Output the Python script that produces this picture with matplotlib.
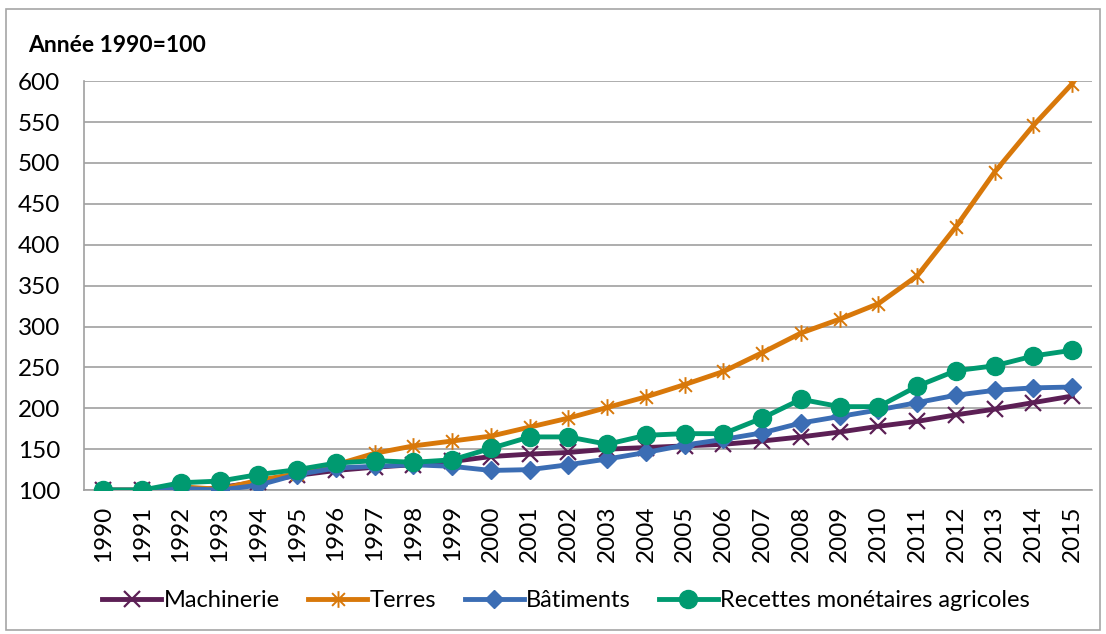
import matplotlib.pyplot as plt
import numpy as np
from matplotlib.path import Path
from matplotlib.patches import Rectangle

plt.rcParams['font.family'] = ['Lato', 'DejaVu Sans']

years = [str(y) for y in range(1990, 2016)]
machinerie = [100, 100, 98, 103, 110, 118, 124, 128, 131, 135, 141, 144, 146, 150, 152, 154, 156, 160, 165, 171, 178, 184, 192, 199, 207, 215]
terres = [100, 100, 104, 101, 112, 120, 131, 145, 154, 160, 166, 177, 188, 201, 214, 229, 245, 268, 292, 309, 328, 362, 422, 489, 546, 597]
batiments = [100, 100, 102, 100, 106, 119, 127, 129, 131, 129, 124, 125, 131, 138, 146, 155, 162, 170, 182, 190, 198, 207, 216, 222, 225, 226]
recettes = [100, 100, 109, 111, 119, 125, 133, 136, 134, 137, 151, 165, 165, 156, 167, 169, 169, 188, 211, 202, 202, 227, 246, 252, 264, 271]

labels = ["Machinerie", "Terres", "Bâtiments", "Recettes monétaires agricoles"]
colors = ["#5c1f55", "#d8780a", "#3b6db4", "#009a70"]

# excel style star: an X with a vertical bar
star = Path([(-1, -1), (1, 1), (-1, 1), (1, -1), (0, -1.3), (0, 1.3)],
            [Path.MOVETO, Path.LINETO, Path.MOVETO, Path.LINETO, Path.MOVETO, Path.LINETO])

fig = plt.figure(figsize=(11.06, 6.34), dpi=100)
fig.patches.append(Rectangle((0.005, 0.006), 0.99, 0.98, transform=fig.transFigure,
                             fill=False, edgecolor="#a6a6a6", lw=1.2))
ax = fig.add_axes([0.076, 0.227, 0.911, 0.645])

x = np.arange(len(years))
ax.plot(x, machinerie, color=colors[0], lw=3.5, marker="x", ms=11, mew=1.6, label=labels[0], zorder=3)
ax.plot(x, terres, color=colors[1], lw=3.5, marker=star, ms=12, mew=1.4, label=labels[1], zorder=4)
ax.plot(x, batiments, color=colors[2], lw=3.5, marker="D", ms=9.5, label=labels[2], zorder=5)
ax.plot(x, recettes, color=colors[3], lw=3.5, marker="o", ms=13, label=labels[3], zorder=6)

ax.set_xlim(-0.5, len(years) - 0.5)
ax.set_ylim(100, 600)
ax.set_yticks(range(100, 601, 50))
ax.set_xticks(x)
ax.set_xticklabels(years, rotation=90, fontsize=17.5)
ax.tick_params(axis="y", labelsize=17.5, length=0, pad=17)
ax.tick_params(axis="x", length=0, pad=11)
ax.grid(axis="y", color="#a0a0a0", lw=1.2)
ax.set_axisbelow(True)
for s in ["top", "right"]:
    ax.spines[s].set_visible(False)
for s in ["left", "bottom"]:
    ax.spines[s].set_color("#a0a0a0")
    ax.spines[s].set_linewidth(1.2)

fig.text(0.025, 0.928, "Année 1990=100", fontsize=16.5, fontweight="bold", ha="left", va="center")

fig.legend(loc="center", bbox_to_anchor=(0.512, 0.053), ncol=4, frameon=False,
           fontsize=17, handlelength=2.5, handletextpad=0.1, columnspacing=1.2)

fig.savefig("out.png", dpi=100)
